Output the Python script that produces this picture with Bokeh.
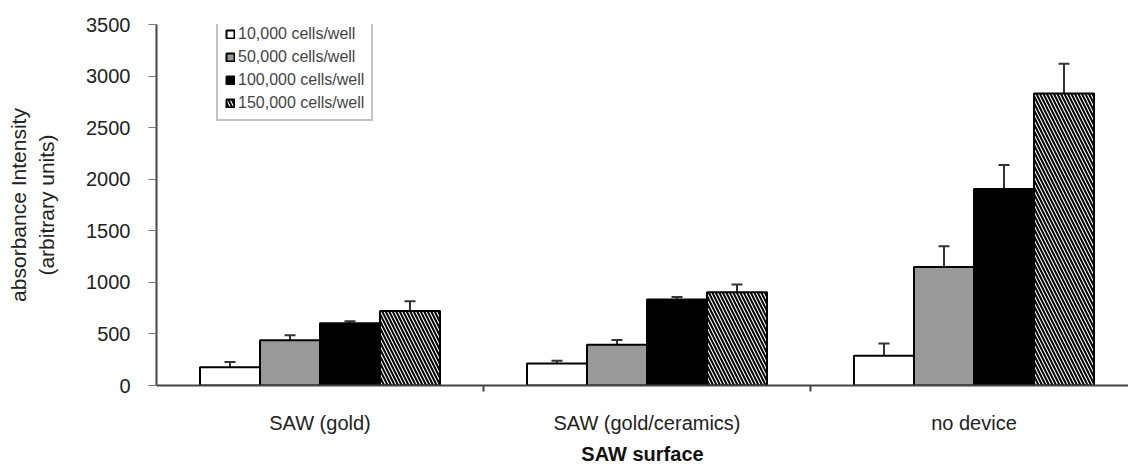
import numpy as np
from bokeh.plotting import figure
from bokeh.models import (Range1d, FixedTicker, Whisker, ColumnDataSource, Legend,
                          LegendItem, TeeHead)
from bokeh.embed import file_html
from bokeh.resources import INLINE

categories = ["SAW (gold)", "SAW (gold/ceramics)", "no device"]
series = ["10,000 cells/well", "50,000 cells/well", "100,000 cells/well", "150,000 cells/well"]
v10k = [178, 214, 288]
v50k = [439, 394, 1150]
v100k = [603, 835, 1906]
v150k = [722, 905, 2830]
e10k = [49, 25, 120]
e50k = [48, 48, 199]
e100k = [19, 22, 231]
e150k = [96, 74, 289]
y_ticks = [0, 500, 1000, 1500, 2000, 2500, 3000, 3500]

values = [v10k, v50k, v100k, v150k]
errors = [e10k, e50k, e100k, e150k]
fills = ["white", "#999999", "black", "white"]
hatches = [None, None, None, "left_diagonal_line"]

FONT = "Liberation Sans"

p = figure(width=1128, height=467, x_range=Range1d(0, 972 / 327), y_range=Range1d(0, 3500),
           output_backend="svg", toolbar_location=None,
           min_border_left=156, min_border_right=0, min_border_top=24, min_border_bottom=70)
p.outline_line_color = None
p.xgrid.visible = False
p.ygrid.visible = False

centers = np.arange(len(categories)) + 0.5
bw = 0.1835
renderers = []
for k in range(4):
    src = ColumnDataSource(dict(
        x=centers + (k - 1.5) * bw,
        top=values[k],
        upper=np.array(values[k]) + np.array(errors[k]),
    ))
    kw = {}
    if hatches[k]:
        kw = dict(hatch_pattern=hatches[k], hatch_color="black", hatch_scale=7, hatch_weight=2)
    r = p.vbar(x="x", top="top", width=bw, source=src, fill_color=fills[k],
               line_color="black", line_width=2, **kw)
    renderers.append(r)
    w = Whisker(source=src, base="x", lower="top", upper="upper", dimension="height",
                line_color="#333333", line_width=2,
                upper_head=TeeHead(size=11, line_color="#333333", line_width=2),
                lower_head=None)
    p.add_layout(w)

ya = p.yaxis[0]
ya.ticker = FixedTicker(ticks=y_ticks)
ya.axis_line_color = "#444444"
ya.axis_line_width = 2
ya.major_tick_out = 8
ya.major_tick_in = 0
ya.major_tick_line_color = "#777777"
ya.minor_tick_out = 0
ya.minor_tick_in = 0
ya.major_label_text_font = FONT
ya.major_label_text_font_size = "20px"
ya.major_label_text_color = "#222222"
ya.major_label_standoff = 18
ya.axis_label = "absorbance Intensity\n(arbitrary units)"
ya.axis_label_text_font = FONT
ya.axis_label_text_font_style = "normal"
ya.axis_label_text_font_size = "21px"
ya.axis_label_text_color = "#222222"
ya.axis_label_standoff = 25

xa = p.xaxis[0]
xa.ticker = FixedTicker(ticks=list(centers), minor_ticks=[1.0, 2.0])
xa.major_label_overrides = {float(c): name for c, name in zip(centers, categories)}
xa.axis_line_color = "#444444"
xa.axis_line_width = 2
xa.major_tick_out = 0
xa.major_tick_in = 0
xa.minor_tick_out = 6
xa.minor_tick_in = 0
xa.minor_tick_line_color = "#444444"
xa.minor_tick_line_width = 2
xa.major_label_text_font = FONT
xa.major_label_text_font_size = "20px"
xa.major_label_text_color = "#222222"
xa.major_label_standoff = 20
xa.axis_label = "SAW surface"
xa.axis_label_text_font = FONT
xa.axis_label_text_font_style = "bold"
xa.axis_label_text_font_size = "20px"
xa.axis_label_text_color = "#111111"
xa.axis_label_standoff = 6

legend = Legend(items=[LegendItem(label=s, renderers=[r]) for s, r in zip(series, renderers)],
                location=(60, 264))
legend.margin = 0
legend.padding = 7
legend.spacing = 4
legend.glyph_width = 10
legend.glyph_height = 10
legend.label_height = 19
legend.label_standoff = 3
legend.label_text_font = FONT
legend.label_text_font_size = "16px"
legend.label_text_color = "#444444"
legend.border_line_color = "#888888"
legend.border_line_width = 2
legend.background_fill_color = "white"
p.add_layout(legend)

open("out.html", "w").write(file_html(p, INLINE))
